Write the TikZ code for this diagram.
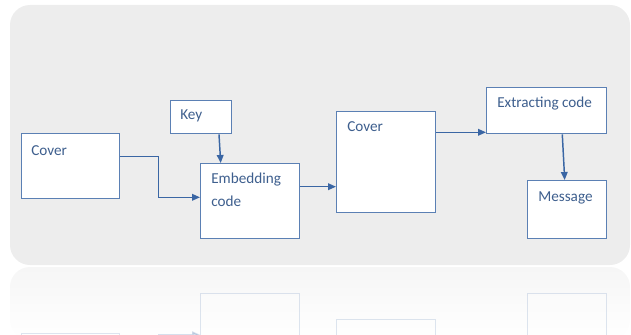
\documentclass[tikz,border=0pt]{standalone}
\usepackage{fontspec}
\setmainfont{Carlito}
\usetikzlibrary{arrows.meta}
\definecolor{bggray}{HTML}{EDEDED}
\definecolor{boxline}{HTML}{5B80B4}
\definecolor{txtblue}{HTML}{3E5F8E}
\definecolor{arrowblue}{HTML}{3A66A4}
\tikzset{
  boxnode/.style={draw=boxline, line width=1.1pt, fill=white, inner sep=0pt, anchor=north west},
  lbl/.style={anchor=base west, inner sep=0pt, text=txtblue, font=\fontsize{11.4}{17}\selectfont, align=left},
  conn/.style={draw=arrowblue, line width=1.1pt, -{Triangle[length=6pt,width=5pt]}}
}
\newcommand{\drawboxes}{%
  \node[boxnode, minimum width=73.5pt, minimum height=48.75pt] (cover1) at (21,133) {};
  \node[boxnode, minimum width=45.75pt, minimum height=24.75pt] (key) at (170,100) {};
  \node[boxnode, minimum width=74.25pt, minimum height=56.25pt] (embed) at (200,163) {};
  \node[boxnode, minimum width=74.25pt, minimum height=75.75pt] (cover2) at (336,111) {};
  \node[boxnode, minimum width=90pt, minimum height=34.5pt] (extract) at (486,87) {};
  \node[boxnode, minimum width=59.25pt, minimum height=43.5pt] (message) at (527,180) {};
  \coordinate (c1) at (158.7,156.7);
  \coordinate (c2) at (158.7,197.3);
  \draw[conn] (cover1.east |- c1) -- (c1) -- (c2) -- (embed.west |- c2);
  \coordinate (k1) at (219,133);
  \coordinate (k2) at (220.7,163);
  \draw[conn] (k1 |- key.south) -- (k2 |- embed.north);
  \coordinate (c3) at (300,186.7);
  \draw[conn] (embed.east |- c3) -- (cover2.west |- c3);
  \coordinate (c4) at (436,132.3);
  \draw[conn] (cover2.east |- c4) -- (extract.west |- c4);
  \coordinate (m1) at (562.3,133);
  \coordinate (m2) at (564.7,180);
  \draw[conn] (m1 |- extract.south) -- (m2 |- message.north);
}
\begin{document}
\begin{tikzpicture}[x=0.75pt, y=-0.75pt]
  \useasboundingbox (0,0) rectangle (631,335);
  % reflection
  \begin{scope}
    \clip (0,267) rectangle (631,335);
    \shade[top color=bggray!50, bottom color=white, rounded corners=15pt] (10,267) rectangle (630,340);
    \begin{scope}[yshift=-399pt, yscale=-1, transform shape, opacity=0.2, name prefix=r-]
      \drawboxes
    \end{scope}
  \end{scope}
  % main
  \fill[bggray, rounded corners=15pt] (10,5) rectangle (630,265);
  \drawboxes
  \node[lbl] (t1) at (31,155) {Cover};
  \node[lbl] (t2) at (180,119.5) {Key};
  \node[lbl] (t3) at (211,206) {Embedding\\code};
  \node[lbl] (t4) at (347,131.7) {Cover};
  \node[lbl] (t5) at (497,107.3) {Extracting code};
  \node[lbl] (t6) at (538,201.7) {Message};
\end{tikzpicture}
\end{document}
